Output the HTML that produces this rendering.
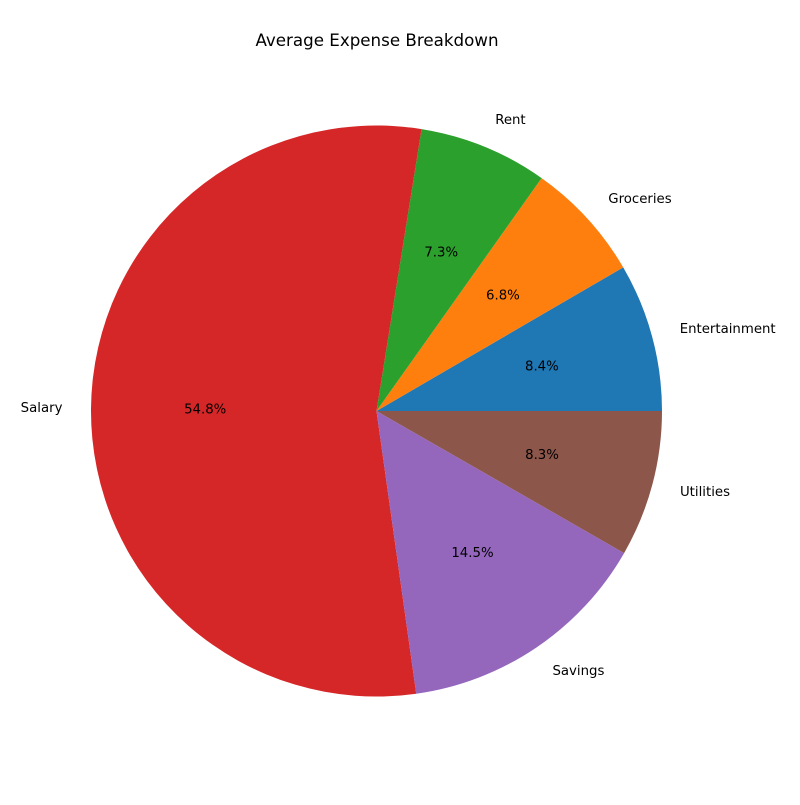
<!DOCTYPE html>
<html><head><meta charset="utf-8"><style>
body{margin:0;background:#fff}
svg text{font-family:"DejaVu Sans","Liberation Sans",sans-serif;fill:#000}
</style></head><body>
<svg id="chart" width="800" height="800" viewBox="0 0 800 800">
<rect width="800" height="800" fill="#fff"/>
<text x="377" y="46" text-anchor="middle" font-size="16.7">Average Expense Breakdown</text>
<g id="slices"></g>
</svg>
<script>
const categories = ["Entertainment","Groceries","Rent","Salary","Savings","Utilities"];
const values = [8.4, 6.8, 7.3, 54.8, 14.5, 8.3];
const colors = ["#1f77b4","#ff7f0e","#2ca02c","#d62728","#9467bd","#8c564b"];
const cx = 376.5, cy = 411, R = 285.5;
const ns = "http://www.w3.org/2000/svg";
const g = document.getElementById("slices");
const total = values.reduce((a,b)=>a+b,0);
function pt(angDeg, r){const a=angDeg*Math.PI/180;return [cx+r*Math.cos(a), cy-r*Math.sin(a)];}
let start = 0;
values.forEach((v,i)=>{
  const sweep = v/total*360, end = start+sweep;
  const [x1,y1]=pt(start,R),[x2,y2]=pt(end,R);
  const p=document.createElementNS(ns,"path");
  p.setAttribute("d",`M${cx},${cy} L${x1},${y1} A${R},${R} 0 ${sweep>180?1:0} 0 ${x2},${y2} Z`);
  p.setAttribute("fill",colors[i]);
  
  
  g.appendChild(p);
  const mid=(start+end)/2;
  const [lx,ly]=pt(mid,R*1.1);
  const t=document.createElementNS(ns,"text");
  t.setAttribute("x",lx);t.setAttribute("y",ly+4);t.setAttribute("font-size","13.3");
  t.setAttribute("text-anchor",Math.cos(mid*Math.PI/180)>=0?"start":"end");
  t.textContent=categories[i];
  
  
  g.appendChild(t);
  const [px,py]=pt(mid,R*0.6);
  const q=document.createElementNS(ns,"text");
  q.setAttribute("x",px);q.setAttribute("y",py+4);q.setAttribute("font-size","13.3");
  q.setAttribute("text-anchor","middle");
  q.textContent=v.toFixed(1)+"%";
  
  
  g.appendChild(q);
  start=end;
});
</script>
</body></html>
